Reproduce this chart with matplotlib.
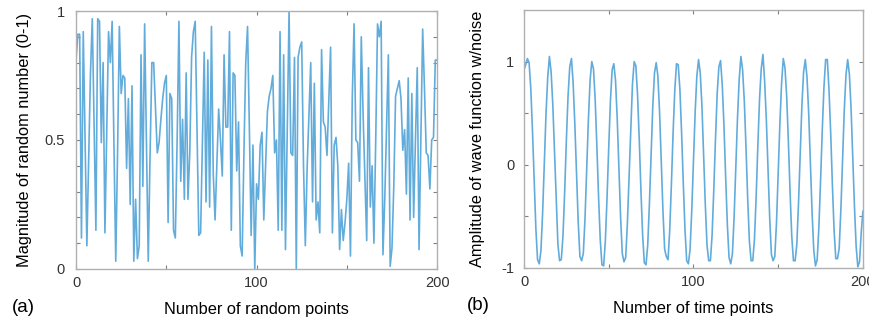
import matplotlib
matplotlib.use("Agg")
import matplotlib.pyplot as plt
from matplotlib.ticker import MultipleLocator, FixedLocator

plt.rcParams['font.family'] = ['Liberation Sans', 'DejaVu Sans']

# ---- data ----
rand_vals = [
    0.81, 0.91, 0.91, 0.12, 0.92, 0.50, 0.09, 0.42, 0.76, 0.97,
    0.55, 0.15, 0.97, 0.96, 0.49, 0.80, 0.14, 0.52, 0.92, 0.80,
    0.96, 0.48, 0.03, 0.45, 0.94, 0.68, 0.75, 0.74, 0.39, 0.66,
    0.25, 0.71, 0.03, 0.27, 0.04, 0.09, 0.83, 0.32, 0.95, 0.48,
    0.03, 0.44, 0.80, 0.80, 0.62, 0.45, 0.49, 0.58, 0.66, 0.72,
    0.75, 0.18, 0.68, 0.66, 0.15, 0.12, 0.50, 0.96, 0.34, 0.58,
    0.27, 0.76, 0.27, 0.45, 0.82, 0.92, 0.96, 0.55, 0.13, 0.14,
    0.50, 0.84, 0.26, 0.81, 0.24, 0.94, 0.37, 0.19, 0.40, 0.62,
    0.50, 0.36, 0.83, 0.55, 0.55, 0.92, 0.15, 0.76, 0.75, 0.38,
    0.57, 0.09, 0.05, 0.45, 0.80, 0.94, 0.55, 0.13, 0.48, 0.00,
    0.33, 0.27, 0.48, 0.53, 0.19, 0.40, 0.61, 0.67, 0.70, 0.75,
    0.45, 0.50, 0.15, 0.92, 0.15, 0.83, 0.075, 0.55, 1.00, 0.45,
    0.44, 0.82, 0.00, 0.82, 0.86, 0.88, 0.40, 0.09, 0.39, 0.60,
    0.80, 0.26, 0.72, 0.19, 0.26, 0.14, 0.85, 0.57, 0.55, 0.44,
    0.65, 0.86, 0.14, 0.48, 0.51, 0.40, 0.075, 0.23, 0.11, 0.18,
    0.27, 0.41, 0.05, 0.66, 0.95, 0.50, 0.49, 0.34, 0.90, 0.60,
    0.35, 0.11, 0.78, 0.24, 0.40, 0.10, 0.50, 0.95, 0.90, 0.96,
    0.055, 0.27, 0.55, 0.83, 0.01, 0.08, 0.32, 0.67, 0.70, 0.73,
    0.66, 0.46, 0.54, 0.29, 0.74, 0.19, 0.68, 0.20, 0.50, 0.78,
    0.075, 0.50, 0.93, 0.70, 0.45, 0.44, 0.31, 0.50, 0.51, 0.81,
    0.81,
]

wave_vals = [
    0.92, 0.97, 1.03, 0.99, 0.74, 0.33, -0.16, -0.62, -0.92, -0.96,
    -0.83, -0.46, 0.02, 0.50, 0.85, 1.05, 0.90, 0.58, 0.12, -0.37,
    -0.77, -0.93, -0.92, -0.69, -0.26, 0.24, 0.67, 0.95, 1.03, 0.79,
    0.39, -0.10, -0.56, -0.89, -0.93, -0.86, -0.52, -0.04, 0.44, 0.82,
    1.00, 0.93, 0.63, 0.18, -0.31, -0.73, -0.97, -0.98, -0.74, -0.32,
    0.17, 0.62, 0.92, 0.98, 0.82, 0.45, -0.03, -0.51, -0.86, -0.94,
    -0.90, -0.57, -0.11, 0.38, 0.78, 1.00, 0.96, 0.68, 0.25, -0.25,
    -0.68, -0.95, -0.97, -0.78, -0.38, 0.11, 0.57, 0.89, 0.99, 0.86,
    0.51, 0.04, -0.45, -0.82, -0.89, -0.92, -0.63, -0.18, 0.32, 0.73,
    0.98, 0.97, 0.73, 0.31, -0.18, -0.63, -0.93, -0.96, -0.82, -0.44,
    0.04, 0.51, 0.86, 1.02, 0.89, 0.57, 0.10, -0.39, -0.78, -0.93,
    -0.93, -0.68, -0.24, 0.25, 0.69, 0.95, 1.01, 0.77, 0.38, -0.12,
    -0.58, -0.90, -0.96, -0.86, -0.50, -0.03, 0.46, 0.83, 1.05, 0.92,
    0.62, 0.17, -0.33, -0.74, -0.93, -0.93, -0.72, -0.31, 0.19, 0.64,
    0.93, 1.07, 0.81, 0.44, -0.05, -0.52, -0.87, -0.93, -0.89, -0.56,
    -0.09, 0.40, 0.79, 1.03, 0.94, 0.67, 0.23, -0.26, -0.69, -0.93,
    -0.93, -0.77, -0.37, 0.12, 0.58, 0.90, 1.02, 0.85, 0.50, 0.02,
    -0.46, -0.83, -0.98, -0.92, -0.61, -0.16, 0.33, 0.75, 1.02, 1.02,
    0.72, 0.30, -0.20, -0.64, -0.91, -0.91, -0.81, -0.43, 0.06, 0.53,
    0.87, 1.02, 0.88, 0.55, 0.09, -0.40, -0.79, -0.99, -0.94, -0.66,
    -0.45,
]

x_rand = list(range(len(rand_vals)))
x_wave = list(range(len(wave_vals)))

line_color = '#62acdc'
spine_color = '#b0b0b0'
tick_text = '#333333'

fig = plt.figure(figsize=(8.69, 3.24), dpi=100)
ax1 = fig.add_axes([0.0875, 0.170, 0.4155, 0.796])
ax2 = fig.add_axes([0.603, 0.173, 0.390, 0.796])

ax1.plot(x_rand, rand_vals, color=line_color, lw=1.2)
ax2.plot(x_wave, wave_vals, color=line_color, lw=1.2)

ax1.set_xlim(0, 200)
ax1.set_ylim(0, 1)
ax2.set_xlim(0, 200)
ax2.set_ylim(-1, 1.5)

ax1.xaxis.set_major_locator(FixedLocator([0, 100, 200]))
ax1.xaxis.set_minor_locator(FixedLocator([50, 150]))
ax1.yaxis.set_major_locator(FixedLocator([0, 0.5, 1]))
ax1.yaxis.set_minor_locator(MultipleLocator(0.1))
ax1.set_yticklabels(['0', '0.5', '1'])

ax2.xaxis.set_major_locator(FixedLocator([0, 100, 200]))
ax2.xaxis.set_minor_locator(FixedLocator([50, 150]))
ax2.yaxis.set_major_locator(FixedLocator([-1, 0, 1]))
ax2.yaxis.set_minor_locator(FixedLocator([-0.5, 0.5]))
ax2.set_yticklabels(['-1', '0', '1'])

for ax in (ax1, ax2):
    for s in ax.spines.values():
        s.set_color(spine_color)
        s.set_linewidth(1.0)
    ax.tick_params(which='both', direction='in', top=True, right=True,
                   length=3, width=0.8, color='#808080',
                   labelsize=10.5, labelcolor=tick_text, pad=5)
ax1.tick_params(axis='y', pad=8)
ax2.tick_params(axis='y', pad=7)

ax1.set_xlabel('Number of random points', fontsize=11.8, labelpad=9)
ax1.set_ylabel('Magnitude of random number (0-1)', fontsize=11.8, labelpad=9)
ax2.set_xlabel('Number of time points', fontsize=11.8, labelpad=9)
ax2.set_ylabel('Amplitude of wave function w/noise', fontsize=11.8, labelpad=12)

fig.text(0.014, 0.052, '(a)', fontsize=13.5, va='center', ha='left')
fig.text(0.537, 0.058, '(b)', fontsize=13.5, va='center', ha='left')

fig.savefig('out.png', dpi=100)
